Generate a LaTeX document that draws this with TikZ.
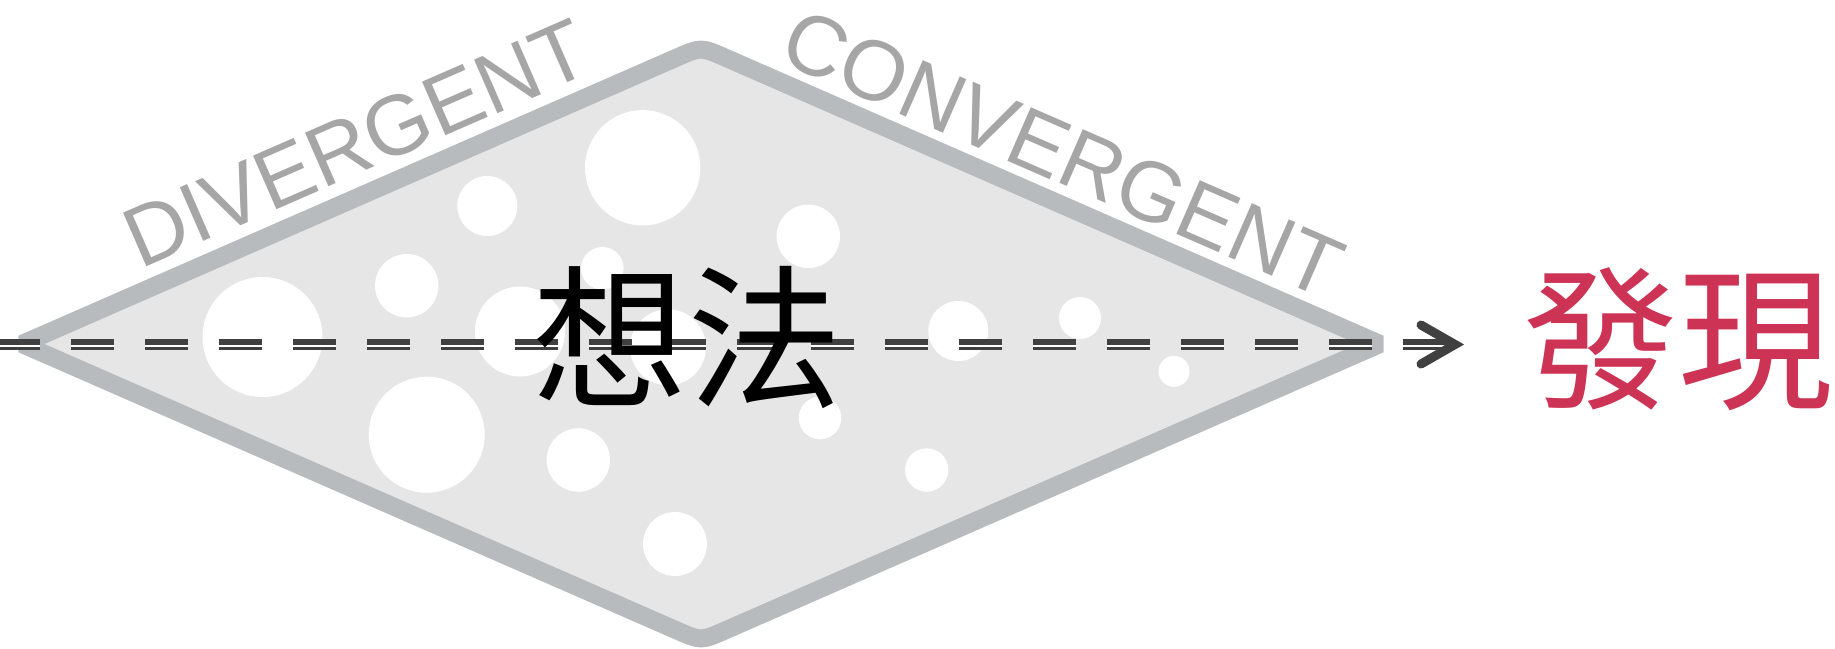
\documentclass[tikz,border=0pt]{standalone}
\usepackage{fontspec}
\newfontfamily\latinsans{Liberation Sans}
\newfontfamily\cjkfont{Noto Sans CJK TC}
\definecolor{kitefill}{HTML}{E6E6E6}
\definecolor{kiteedge}{HTML}{B8BBBE}
\definecolor{labelgray}{HTML}{A6A6A6}
\definecolor{darkline}{HTML}{404040}
\definecolor{findred}{HTML}{CC3355}
\begin{document}
\begin{tikzpicture}[x=1pt,y=-1pt,
  kite/.style={fill=kitefill, draw=kiteedge, line width=18pt, line join=bevel},
  hole/.style={fill=white, draw=none},
  edgelabel/.style={text=labelgray, font=\latinsans\fontsize{85}{85}\selectfont, inner sep=0pt, anchor=base},
  bigword/.style={font=\cjkfont\fontsize{155}{155}\selectfont, inner sep=0pt},
  dashmain/.style={draw=darkline, line width=11pt, dash pattern=on 42.3pt off 31.7pt, dash phase=2.7pt},
  dashstripe/.style={draw=white, line width=2pt, dash pattern=on 42.3pt off 31.7pt, dash phase=2.7pt},
  chevron/.style={draw=darkline, line width=9pt, line cap=round, line join=miter}
]
\useasboundingbox (0,0) rectangle (1835,648);
% kite outline
\coordinate (L) at (22,344);
\coordinate (T) at (701,47);
\coordinate (R) at (1380,344);
\coordinate (B) at (701,641);
\path[kite] (L) -- (677.2,57.4) .. controls (T) .. (724.8,57.4) -- (R)
  -- (724.8,630.6) .. controls (B) .. (677.2,630.6) -- cycle;
% holes
\foreach \cx/\cy/\r in {487.3/206/30, 406.7/285.7/31.7, 262.5/337/60, 520/331.5/45,
  426.7/434.7/58, 642.7/167.8/57.7, 808.3/236.3/31.7, 602.3/268.3/21.3,
  668/347.3/38, 958.3/331/30, 578.3/460/31.7, 820/418/21.3, 926.7/470/21.7,
  675/544/32, 1080/318/21, 1174/371.3/15.5}
  \path[hole] (\cx,\cy) circle[radius=\r pt];
% dashed connector
\coordinate (src) at (0,344.5);
\coordinate (tip) at (1455,344.5);
\draw[dashmain] (src) -- (tip);
\draw[dashstripe] ([yshift=-1.8pt]src) -- ([yshift=-1.8pt]tip);
\draw[chevron] (tip) ++(-34,-19.5) -- (tip) -- ++(-34,19.5);
% labels
\node[edgelabel, rotate=23.56] (div) at (368,170) {DIVERGENT};
\node[edgelabel, rotate=-23.56] (conv) at (1051,180) {CONVERGENT};
\node[bigword] (idea) at (687,337.5) {想法};
\node[bigword, text=findred] (find) at (1678.5,339.5) {發現};
\end{tikzpicture}
\end{document}
